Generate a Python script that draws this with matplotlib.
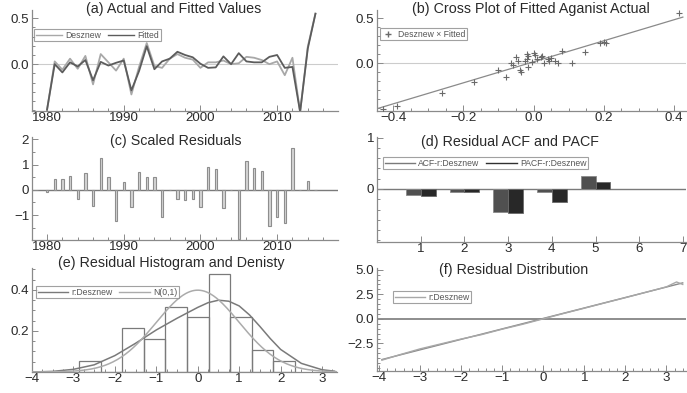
import numpy as np
import matplotlib
matplotlib.use("Agg")
import matplotlib.pyplot as plt
from matplotlib.ticker import MultipleLocator
from matplotlib.lines import Line2D

plt.rcParams['font.family'] = ['Liberation Sans', 'DejaVu Sans']

# ---------------- data ----------------
years = list(range(1980, 2016))
desznew = [-0.50, 0.03, -0.06, 0.06, -0.05, 0.09, -0.22, 0.11, 0.02, -0.07,
           0.06, -0.33, -0.03, 0.23, -0.02, -0.04, 0.06, 0.11, 0.07, 0.05,
           -0.04, 0.02, 0.02, 0.04, 0.00, 0.01, 0.08, 0.07, 0.045, 0.00,
           0.03, -0.12, 0.07, -0.52, 0.19, 0.55]
fitted = [-0.495, 0.00, -0.09, 0.02, -0.025, 0.045, -0.175, 0.025, -0.015, 0.015,
          0.04, -0.285, -0.075, 0.195, -0.055, 0.03, 0.06, 0.135, 0.10, 0.075,
          0.005, -0.04, -0.035, 0.085, 0.00, 0.12, 0.03, 0.02, 0.02, 0.08,
          0.10, -0.04, -0.03, -0.52, 0.17, 0.55]

cross_x = [-0.43, -0.39, -0.26, -0.17, -0.10, -0.08, -0.065, -0.06, -0.05, -0.045,
           -0.04, -0.035, -0.025, -0.02, -0.015, -0.015, -0.005, 0.0, 0.005, 0.01,
           0.02, 0.025, 0.03, 0.04, 0.045, 0.05, 0.06, 0.07, 0.08, 0.11,
           0.145, 0.19, 0.20, 0.205, 0.415, -0.02]
cross_y = [-0.51, -0.47, -0.33, -0.21, -0.07, -0.15, 0.00, -0.02, 0.065, 0.03,
           -0.07, -0.095, 0.02, 0.045, 0.075, -0.045, 0.01, 0.11, 0.09, 0.045,
           0.07, 0.08, 0.00, 0.045, 0.02, 0.06, 0.03, 0.005, 0.13, 0.005,
           0.12, 0.22, 0.23, 0.225, 0.555, 0.10]

scaled_resid = [-0.07, 0.43, 0.43, 0.56, -0.35, 0.65, -0.65, 1.25, 0.49, -1.23,
                0.32, -0.68, 0.69, 0.49, 0.49, -1.06, 0.0, -0.35, -0.42, -0.35,
                -0.68, 0.90, 0.82, -0.71, 0.0, -1.97, 1.14, 0.88, 0.73, -1.45,
                -1.06, -1.32, 1.66, 0.0, 0.34, 0.0]

lags = [1, 2, 3, 4, 5]
acf = [-0.12, -0.05, -0.44, -0.05, 0.25]
pacf = [-0.13, -0.06, -0.47, -0.26, 0.14]

hist_edges = [-2.86, -2.34, -1.82, -1.30, -0.78, -0.26, 0.26, 0.78, 1.30, 1.82, 2.34]
hist_density = [0.053, 0.0, 0.214, 0.160, 0.318, 0.267, 0.478, 0.267, 0.107, 0.053]

dens_x = [-4.0, -3.5, -3.0, -2.5, -2.0, -1.5, -1.0, -0.5, 0.0, 0.25, 0.5, 0.75,
          1.0, 1.25, 1.5, 1.75, 2.0, 2.5, 3.0, 3.3]
dens_y = [0.0, 0.003, 0.013, 0.035, 0.08, 0.14, 0.205, 0.262, 0.315, 0.338, 0.35, 0.345,
          0.322, 0.278, 0.222, 0.163, 0.11, 0.042, 0.011, 0.004]

qq_x = [-3.93, -3.5, -3.0, -2.5, -2.0, -1.5, -1.0, -0.5, 0.0, 0.5, 1.0, 1.5,
        2.0, 2.5, 3.0, 3.25, 3.4]
qq_y = [-4.2, -3.65, -3.05, -2.55, -2.05, -1.6, -1.05, -0.55, 0.0, 0.55, 1.08, 1.62,
        2.15, 2.7, 3.25, 3.75, 3.5]

# ---------------- layout helpers ----------------
W, H = 687, 393
fig = plt.figure(figsize=(W / 100, H / 100), dpi=100)
fig.patch.set_facecolor('white')

SPINE = '#8a8a8a'
TXT = '#2a2a2a'


def box(l, t, r, b):
    return [l / W, 1 - b / H, (r - l) / W, (b - t) / H]


def style(ax):
    for s in ('top', 'right'):
        ax.spines[s].set_visible(False)
    for s in ('left', 'bottom'):
        ax.spines[s].set_color(SPINE)
        ax.spines[s].set_linewidth(0.9)
    ax.tick_params(which='both', direction='in', color=SPINE, labelcolor=TXT,
                   labelsize=9.6, width=0.7)
    ax.tick_params(which='major', length=4, pad=2)
    ax.tick_params(axis='x', which='major', pad=1)
    ax.tick_params(which='minor', length=2)
    ax.patch.set_alpha(0)


def title(x, y, s):
    fig.text(x / W, 1 - y / H, s, ha='center', va='center', fontsize=10.3, color=TXT)


def legend(ax, handles, labels, x, y, ncol, hl=3.0):
    lg = ax.legend(handles=handles, labels=labels, loc='upper left',
                   bbox_to_anchor=(x / W, 1 - y / H),
                   bbox_transform=fig.transFigure, ncol=ncol, fontsize=6.2,
                   frameon=True, fancybox=False, edgecolor='#8a8a8a', borderpad=0.2,
                   handlelength=hl, handletextpad=0.4, columnspacing=0.8,
                   borderaxespad=0)
    lg.get_frame().set_linewidth(0.8)
    for t in lg.get_texts():
        t.set_color('#555555')
    return lg


C_ACT = '#a8a8a8'
C_FIT = '#5c5c5c'

# ---------------- (a) actual and fitted ----------------
ax = fig.add_axes(box(32, 10, 338, 111))
style(ax)
ax.axhline(0, color='#cccccc', lw=0.8, zorder=0)
ax.plot(years, desznew, color=C_ACT, lw=1.3)
ax.plot(years, fitted, color=C_FIT, lw=1.3)
ax.set_xlim(1978.04, 2017.94)
ax.set_ylim(-0.51, 0.59)
ax.set_xticks([1980, 1990, 2000, 2010])
ax.xaxis.set_minor_locator(MultipleLocator(2))
ax.set_yticks([0.0, 0.5])
ax.yaxis.set_minor_locator(MultipleLocator(0.1))
legend(ax, [Line2D([], [], color=C_ACT, lw=1), Line2D([], [], color=C_FIT, lw=1)],
       ['Desznew', 'Fitted'], 34, 29, 2)
title(174, 9, '(a) Actual and Fitted Values')

# ---------------- (b) cross plot ----------------
ax = fig.add_axes(box(377, 10, 686, 111))
style(ax)
ax.axhline(0, color='#cccccc', lw=0.8, zorder=0)
slope, icpt = np.polyfit(cross_x, cross_y, 1)
xl = np.array([-0.445, 0.425])
ax.plot(xl, icpt + slope * xl, color='#8a8a8a', lw=0.9)
ax.scatter(cross_x, cross_y, marker='+', s=14, color='#6a6a6a', linewidths=0.8, zorder=3)
ax.set_xlim(-0.446, 0.434)
ax.set_ylim(-0.53, 0.59)
ax.set_xticks([-0.4, -0.2, 0.0, 0.2, 0.4])
ax.xaxis.set_minor_locator(MultipleLocator(0.05))
ax.set_yticks([0.0, 0.5])
ax.yaxis.set_minor_locator(MultipleLocator(0.1))
legend(ax, [Line2D([], [], color='#6a6a6a', marker='+', ls='none', markersize=4)],
       ['Desznew × Fitted'], 380, 28, 1, hl=1.5)
title(531, 9, '(b) Cross Plot of Fitted Aganist Actual')

# ---------------- (c) scaled residuals ----------------
ax = fig.add_axes(box(32, 137, 338, 240))
style(ax)
ax.axhline(0, color='#7a7a7a', lw=1.0, zorder=1)
ax.bar(years, scaled_resid, width=0.3, color='#d4d4d4', edgecolor='#8e8e8e',
       linewidth=0.8, zorder=2)
ax.set_xlim(1978.04, 2017.94)
ax.set_ylim(-1.99, 2.09)
ax.set_xticks([1980, 1990, 2000, 2010])
ax.xaxis.set_minor_locator(MultipleLocator(2))
ax.set_yticks([-1, 0, 1, 2])
ax.yaxis.set_minor_locator(MultipleLocator(0.5))
title(176, 141, '(c) Scaled Residuals')

# ---------------- (d) ACF / PACF ----------------
ax = fig.add_axes(box(377, 137, 686, 242))
style(ax)
ax.axhline(0, color='#7a7a7a', lw=1.0, zorder=1)
C_ACF = '#505050'
C_PACF = '#282828'
lag_arr = np.array(lags)
ax.bar(lag_arr - 0.17, acf, width=0.34, color=C_ACF, edgecolor='#8a8a8a', linewidth=0.6, zorder=2)
ax.bar(lag_arr + 0.17, pacf, width=0.34, color=C_PACF, edgecolor='#6a6a6a', linewidth=0.6, zorder=2)
ax.set_xlim(0, 7.07)
ax.set_ylim(-1.03, 1.01)
ax.set_xticks([1, 2, 3, 4, 5, 6, 7])
ax.set_yticks([0, 1])
ax.yaxis.set_minor_locator(MultipleLocator(0.2))
legend(ax, [Line2D([], [], color='#7a7a7a', lw=1), Line2D([], [], color='#303030', lw=1)],
       ['ACF-r:Desznew', 'PACF-r:Desznew'], 383, 157, 2, hl=3.5)
title(510, 142, '(d) Residual ACF and PACF')

# ---------------- (e) histogram and density ----------------
ax = fig.add_axes(box(32, 268, 337, 372))
style(ax)
edges = np.array(hist_edges)
ax.bar(edges[:-1], hist_density, width=np.diff(edges), align='edge',
       facecolor='none', edgecolor='#7a7a7a', linewidth=0.9, zorder=2)
xs = np.linspace(-4, 3.4, 300)
ax.plot(dens_x, dens_y, color='#7a7a7a', lw=1.1, zorder=3)
ax.plot(xs, np.exp(-xs ** 2 / 2) / np.sqrt(2 * np.pi), color='#ababab', lw=1.1, zorder=3)
ax.set_xlim(-3.96, 3.36)
ax.set_ylim(0, 0.507)
ax.set_xticks([-4, -3, -2, -1, 0, 1, 2, 3])
ax.xaxis.set_minor_locator(MultipleLocator(0.25))
ax.set_yticks([0.2, 0.4])
ax.yaxis.set_minor_locator(MultipleLocator(0.05))
legend(ax, [Line2D([], [], color='#7a7a7a', lw=1), Line2D([], [], color='#ababab', lw=1)],
       ['r:Desznew', 'N(0,1)'], 36, 286, 2, hl=3.5)
title(171, 263.5, '(e) Residual Histogram and Denisty')

# ---------------- (f) residual distribution ----------------
ax = fig.add_axes(box(377, 268, 686, 371))
style(ax)
ax.axhline(0, color='#7a7a7a', lw=1.2, zorder=1)
qs, qi = np.polyfit(qq_x, qq_y, 1)
ql = np.array([qq_x[0], qq_x[-1]])
ax.plot(ql, qi + qs * ql, color='#8a8a8a', lw=1.0, zorder=2)
ax.plot(qq_x, qq_y, color='#a8a8a8', lw=1.0, zorder=3)
ax.set_xlim(-4.05, 3.48)
ax.set_ylim(-5.3, 5.17)
ax.set_xticks([-4, -3, -2, -1, 0, 1, 2, 3])
ax.xaxis.set_minor_locator(MultipleLocator(0.2))
ax.set_yticks([-2.5, 0.0, 2.5, 5.0])
ax.yaxis.set_minor_locator(MultipleLocator(0.5))
legend(ax, [Line2D([], [], color='#a8a8a8', lw=1)], ['r:Desznew'], 393, 291, 1, hl=3.5)
title(514, 270, '(f) Residual Distribution')

fig.savefig('out.png', dpi=100, facecolor='white')
